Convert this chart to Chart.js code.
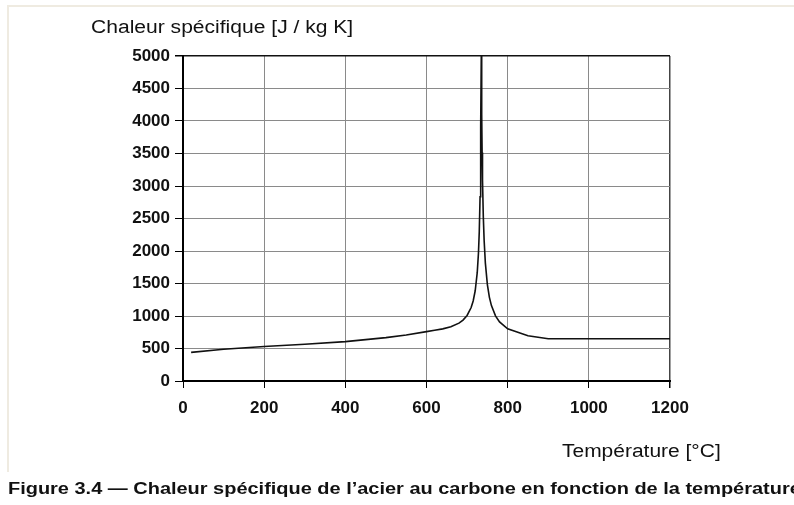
<!DOCTYPE html>
<html>
<head>
<meta charset="utf-8">
<script src="https://cdn.jsdelivr.net/npm/chart.js@4/dist/chart.umd.min.js"></script>
<style>
  html, body { margin: 0; padding: 0; background: #fff; }
  #wrap { position: relative; width: 794px; height: 505px; overflow: hidden; font-family: "Liberation Sans", Arial, sans-serif; }
  #frame { position: absolute; left: 7px; top: 5px; width: 800px; height: 465px; border-top: 2px solid #efebe1; border-left: 2px solid #efebe1; }
  canvas { position: absolute; left: 0; top: 0; }
  .txt { position: absolute; white-space: nowrap; color: #111; transform-origin: 0 0; }
  #ytitle { left: 91px; top: 17px; font-size: 18px; transform: scaleX(1.17); }
  #xtitle { left: 562px; top: 441px; font-size: 18px; transform: scaleX(1.165); }
  #caption { left: 8px; top: 480px; font-size: 16px; font-weight: bold; transform: scaleX(1.247); }
</style>
</head>
<body>
<div id="wrap">
  <div id="frame"></div>
  <canvas id="c" width="794" height="505"></canvas>
  <div class="txt" id="ytitle">Chaleur spécifique [J / kg K]</div>
  <div class="txt" id="xtitle">Température [°C]</div>
  <div class="txt" id="caption">Figure 3.4 — Chaleur spécifique de l’acier au carbone en fonction de la température</div>
</div>
<script>
// Temperature (°C) and specific heat (J/kg K) of carbon steel
const temperatures = [20, 100, 200, 300, 400, 500, 550, 600, 620, 640, 660, 680, 690, 700, 710, 715, 720, 725, 728, 730, 732, 733, 734, 735,
                      736, 737, 738, 740, 742, 745, 750, 755, 760, 770, 780, 800, 850, 900, 1000, 1200];
const specificHeat = [440, 488, 530, 565, 606, 667, 708, 760, 780, 802, 834, 890, 937, 1008, 1130, 1231, 1388, 1666, 1966, 2291, 2834, 3266, 3917, 5000,
                      4109, 3515, 3091, 2525, 2165, 1818, 1483, 1287, 1160, 1002, 909, 803, 695, 650, 650, 650];

const xTicks = [0, 200, 400, 600, 800, 1000, 1200];
const yTicks = [0, 500, 1000, 1500, 2000, 2500, 3000, 3500, 4000, 4500, 5000];

const points = temperatures.map((t, i) => ({ x: t, y: specificHeat[i] }));

new Chart(document.getElementById('c'), {
  type: 'scatter',
  data: {
    datasets: [{
      data: points,
      showLine: true,
      borderColor: '#111',
      borderWidth: 1.6,
      pointRadius: 0,
      tension: 0,
      fill: false
    }]
  },
  options: {
    responsive: false,
    animation: false,
    events: [],
    layout: { padding: { left: 0, top: 56, right: 124, bottom: 0 } },
    plugins: { legend: { display: false }, tooltip: { enabled: false } },
    scales: {
      x: {
        type: 'linear',
        min: 0, max: 1200,
        afterBuildTicks: s => { s.ticks = xTicks.map(v => ({ value: v })); },
        afterFit: s => { s.height = 124; },
        border: { color: '#000', width: 2 },
        grid: {
          color: c => (c.tick && c.tick.value === 1200) ? '#444' : '#8a8a8a',
          lineWidth: c => (c.tick && c.tick.value === 1200) ? 1.5 : 1,
          tickColor: '#000',
          tickLength: 7,
          drawTicks: true
        },
        ticks: {
          color: '#111',
          padding: 10,
          callback: v => String(v),
          font: { family: 'Liberation Sans, Arial, sans-serif', size: 17, weight: 'bold' },
          maxRotation: 0
        }
      },
      y: {
        min: 0, max: 5000,
        afterBuildTicks: s => { s.ticks = yTicks.map(v => ({ value: v })); },
        afterFit: s => { s.width = 183; },
        border: { color: '#000', width: 2 },
        grid: {
          color: c => (c.tick && c.tick.value === 5000) ? '#111' : '#8a8a8a',
          lineWidth: c => (c.tick && c.tick.value === 5000) ? 1.5 : 1,
          tickColor: '#000',
          tickLength: 8,
          drawTicks: true
        },
        ticks: {
          color: '#111',
          padding: 5,
          callback: v => String(v),
          font: { family: 'Liberation Sans, Arial, sans-serif', size: 17, weight: 'bold' }
        }
      }
    }
  }
});
</script>
</body>
</html>
